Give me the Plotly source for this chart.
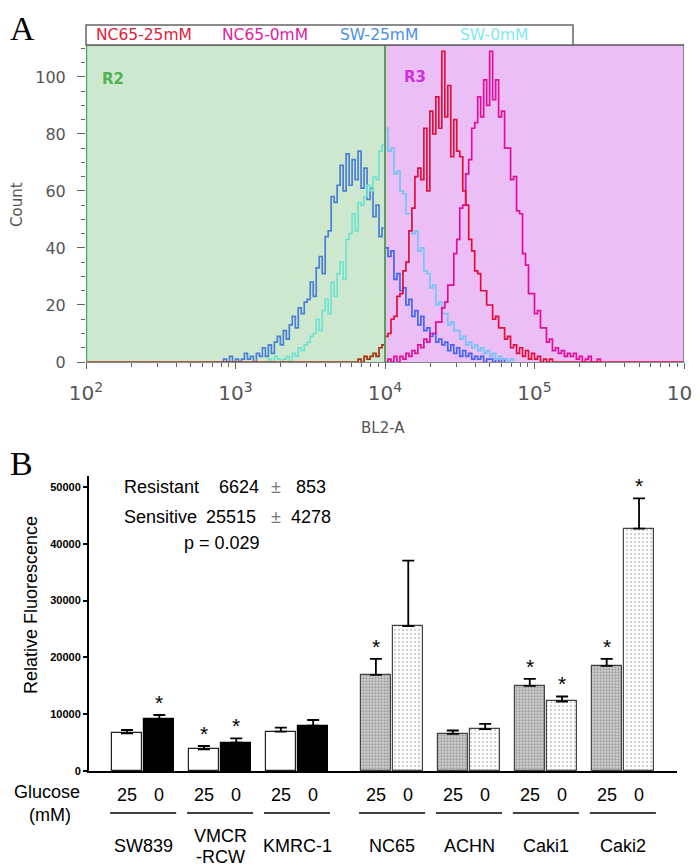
import plotly.graph_objects as go

W, H = 700, 867
PAGE_OFF = 8  # default page body margin of the html page
def px(x): return (x - PAGE_OFF) / W
def py(y): return 1 - (y - PAGE_OFF) / H

# ---------------- Panel A data (flow histogram, log10 channel, counts) ----------------
hist_step = 0.02
gate_split_log = 4.0
sw25_start = 2.90
sw25_counts = [0, 1, 0, 2, 0, 1, 0, 1, 3, 1, 2, 0, 3, 2, 5, 2, 6, 3, 7, 9,
               6, 11, 8, 13, 16, 12, 19, 17, 21, 22, 28, 23, 33, 37, 31, 44, 46, 58, 56, 62,
               69, 60, 73, 62, 71, 64, 74, 61, 68, 57, 61, 51, 55, 44, 47, 40, 37, 39, 29, 31,
               25, 26, 20, 22, 16, 18, 13, 16, 11, 12, 9, 10, 7, 8, 6, 7, 4, 6, 3, 5,
               2, 4, 2, 3, 1, 2, 1, 2, 0, 1, 1, 0, 1, 0, 1, 0]
sw0_start = 3.20
sw0_counts = [0, 1, 0, 2, 1, 0, 1, 2, 0, 3, 2, 5, 4, 6, 7, 9, 10, 15, 11, 18,
              22, 17, 28, 23, 31, 35, 29, 43, 45, 52, 46, 56, 55, 58, 62, 60, 65, 64, 74, 76,
              82, 74, 75, 66, 67, 60, 59, 52, 52, 45, 46, 39, 40, 32, 31, 26, 27, 20, 21, 17,
              17, 13, 14, 11, 11, 8, 9, 6, 7, 5, 6, 4, 5, 3, 4, 2, 3, 1, 2, 1,
              1, 0, 1, 0]
nc25_start = 3.80
nc25_counts = [0, 1, 0, 2, 1, 2, 3, 2, 5, 6, 9, 10, 15, 16, 23, 24, 32, 35, 46, 54,
               65, 68, 64, 82, 60, 88, 80, 93, 82, 109, 86, 97, 72, 85, 74, 72, 60, 55, 43, 39,
               32, 31, 25, 25, 20, 20, 15, 16, 12, 12, 8, 9, 5, 6, 3, 5, 2, 4, 1, 3,
               1, 2, 0, 1, 0, 1, 0]
nc0_start = 4.00
nc0_counts = [0, 1, 0, 2, 0, 2, 1, 3, 2, 4, 3, 6, 5, 8, 7, 10, 10, 14, 14, 19,
              21, 27, 27, 38, 43, 54, 55, 66, 71, 82, 84, 93, 86, 99, 90, 109, 92, 99, 86, 88,
              75, 75, 64, 65, 53, 52, 38, 34, 24, 24, 17, 18, 12, 12, 7, 8, 4, 5, 3, 4,
              2, 3, 2, 3, 1, 2, 0, 1, 2, 0, 0, 1, 0]
legend_labels = ["NC65-25mM", "NC65-0mM", "SW-25mM", "SW-0mM"]

# ---------------- Panel B data ----------------
cell_lines = ["SW839", "VMCR<br>-RCW", "KMRC-1", "NC65", "ACHN", "Caki1", "Caki2"]
glucose_levels = ["25", "0"]
fluor_25 = [6640, 3820, 6920, 16940, 6550, 15000, 18520]
sem_25 = [580, 580, 700, 2810, 580, 1230, 1230]
fluor_0 = [9100, 4980, 7980, 25530, 7360, 12240, 42660]
sem_0 = [760, 780, 1000, 11500, 950, 880, 5350]
star_25 = [False, True, False, True, False, True, True]
star_0 = [True, True, False, False, False, True, True]
sensitive = [False, False, False, True, True, True, True]
stats_rows = [("Resistant", "6624", "853"), ("Sensitive", "25515", "4278")]
p_text = "p = 0.029"

fig = go.Figure()

# ---------- Panel A traces ----------
def build(start, counts, pad=False):
    logs = [round(start + hist_step * i, 4) for i in range(len(counts))]
    xs = [10 ** v for v in logs]
    ys = list(counts)
    if pad:
        logs = [2.0] + logs + [6.0]
        xs = [10 ** 2.0] + xs + [10 ** 6.0]
        ys = [0] + ys + [0]
    r2 = [(x, y) for l, x, y in zip(logs, xs, ys) if l <= gate_split_log]
    r3 = [(x, y) for l, x, y in zip(logs, xs, ys) if l >= gate_split_log]
    return r2, r3

series = [
    (sw25_start, sw25_counts, False, "#4a7fd6", "#4466f0"),
    (sw0_start, sw0_counts, False, "#6fe3cf", "#74c4f4"),
    (nc0_start, nc0_counts, False, "#d8108a", "#e0109a"),
    (nc25_start, nc25_counts, True, "#a8300c", "#e0103c"),
]
for start, counts, pad, c2, c3 in series:
    r2, r3 = build(start, counts, pad)
    for part, col in ((r2, c2), (r3, c3)):
        if part:
            fig.add_trace(go.Scatter(x=[p[0] for p in part], y=[p[1] for p in part],
                                     mode="lines", line=dict(color=col, width=1.7, shape="hv"),
                                     xaxis="x", yaxis="y", showlegend=False, hoverinfo="skip"))

# ---------- Panel B traces ----------
def gpos(i):
    return i * 2.33 + (0.55 if i >= 3 else 0.0)
off = 0.49
bw = 0.9

styles = {
    (False, 0): dict(color="white", line=dict(color="#222", width=1.2)),
    (False, 1): dict(color="black", line=dict(color="black", width=1.2)),
    (True, 0): dict(color="#d0d0d0", line=dict(color="#444", width=1.2),
                    pattern=dict(shape=".", fgcolor="#6a6a6a", bgcolor="#d2d2d2", size=3, solidity=0.45)),
    (True, 1): dict(color="white", line=dict(color="#444", width=1.2),
                    pattern=dict(shape=".", fgcolor="#9a9a9a", bgcolor="white", size=4, solidity=0.25)),
}
for sens in (False, True):
    for k, (vals, sems) in enumerate(((fluor_25, sem_25), (fluor_0, sem_0))):
        idx = [i for i in range(len(cell_lines)) if sensitive[i] == sens]
        xs = [gpos(i) + (-off if k == 0 else off) for i in idx]
        fig.add_trace(go.Bar(
            x=xs, y=[vals[i] for i in idx], width=bw,
            marker=styles[(sens, k)],
            error_y=dict(type="data", array=[sems[i] for i in idx], arrayminus=[0] * len(idx),
                         symmetric=False, color="black", thickness=1.8, width=6),
            xaxis="x2", yaxis="y2", showlegend=False, hoverinfo="skip"))

annotations = []
shapes = []

def ann(x, y, text, xref="paper", yref="paper", xanchor="center", yanchor="middle", **kw):
    d = dict(x=x, y=y, xref=xref, yref=yref, text=text, xanchor=xanchor, yanchor=yanchor, showarrow=False)
    d.update(kw)
    annotations.append(d)

SANS = "Liberation Sans"
for i, name in enumerate(cell_lines):
    c = gpos(i)
    for k, (vals, sems, stars) in enumerate(((fluor_25, sem_25, star_25), (fluor_0, sem_0, star_0))):
        bx = c + (-off if k == 0 else off)
        ann(bx, py(795), glucose_levels[k], xref="x2", font=dict(family=SANS, size=18, color="black"))
        if stars[i]:
            ann(bx, vals[i] + sems[i], "*", xref="x2", yref="y2", yanchor="bottom", yshift=-1,
                font=dict(family=SANS, size=21, color="black"))
    lines = name.split("<br>")
    if len(lines) == 1:
        ann(c, py(846), name, xref="x2", font=dict(family=SANS, size=18, color="black"))
    else:
        for ln, yy in zip(lines, (836, 857)):
            ann(c, py(yy), ln, xref="x2", font=dict(family=SANS, size=18, color="black"))
    shapes.append(dict(type="line", xref="x2", yref="paper", x0=c - off - bw / 2 - 0.06,
                       x1=c + off + bw / 2 + 0.06, y0=py(813), y1=py(813),
                       line=dict(color="black", width=1.5)))

ann(px(47), py(792), "Glucose", font=dict(family=SANS, size=18, color="black"))
ann(px(50), py(815), "(mM)", font=dict(family=SANS, size=18, color="black"))
ann(px(31), py(605), "Relative Fluorescence", textangle=-90, font=dict(family=SANS, size=18, color="black"))

row_y = [487, 517]
num_right = [261, 258]
sd_right = [328, 333]
for (lab, mean, sd), yy, nr, sr in zip(stats_rows, row_y, num_right, sd_right):
    f = dict(family=SANS, size=18, color="black")
    ann(px(122), py(yy), lab, xanchor="left", font=f)
    ann(px(nr), py(yy), mean, xanchor="right", font=f)
    ann(px(276), py(yy), "±", font=dict(family=SANS, size=18, color="#777"))
    ann(px(sr), py(yy), sd, xanchor="right", font=f)
ann(px(222), py(543), p_text, font=dict(family=SANS, size=18, color="black"))

ann(px(8), py(8), "A", xanchor="left", yanchor="top", font=dict(family="Liberation Serif", size=34, color="black"))
ann(px(8), py(463), "B", xanchor="left", font=dict(family="Liberation Serif", size=34, color="black"))

# ---------- Panel A decorations ----------
shapes += [
    dict(type="rect", xref="x", yref="y domain", x0=1e2, x1=1e4, y0=0, y1=1, layer="below",
         fillcolor="#cde8cf", line=dict(width=0)),
    dict(type="rect", xref="x", yref="y domain", x0=1e4, x1=1e6, y0=0, y1=1, layer="below",
         fillcolor="#ebbef5", line=dict(width=0)),
    dict(type="line", xref="x", yref="y domain", x0=1e2, x1=1e2, y0=0, y1=1,
         line=dict(color="#4caf50", width=2.5)),
    dict(type="line", xref="x", yref="y domain", x0=1e4, x1=1e4, y0=0, y1=1,
         line=dict(color="#5aa05a", width=2)),
    dict(type="line", xref="x", yref="y domain", x0=1e6, x1=1e6, y0=0, y1=1,
         line=dict(color="#7d5d7d", width=1.5)),
    dict(type="line", xref="x domain", yref="y domain", x0=0, x1=1, y0=1, y1=1,
         line=dict(color="#555", width=1.5)),
    dict(type="rect", xref="paper", yref="paper", x0=px(86), x1=px(573), y0=py(45), y1=py(25),
         fillcolor="white", line=dict(color="#666", width=1.5)),
]
DV = "DejaVu Sans"
leg_x = [94, 220, 338, 458]
leg_col = ["#e0203a", "#e020a0", "#4a90e0", "#80e8f0"]
for t, lx, lc in zip(legend_labels, leg_x, leg_col):
    ann(px(lx), py(35), t, xanchor="left", font=dict(family=DV, size=15.5, color=lc))
ann(px(100), py(79), "<b>R2</b>", xanchor="left", font=dict(family=DV, size=15, color="#50b450"))
ann(px(402), py(77), "<b>R3</b>", xanchor="left", font=dict(family=DV, size=15, color="#d030e0"))
ann(px(383), py(428), "BL2-A", font=dict(family=DV, size=15, color="#555"))
ann(px(17), py(205), "Count", textangle=-90, font=dict(family=DV, size=15, color="#555"))

fig.update_layout(
    width=W, height=H, margin=dict(l=0, r=0, t=0, b=0, autoexpand=False),
    paper_bgcolor="white", plot_bgcolor="rgba(0,0,0,0)",
    bargap=0, barmode="overlay",
    xaxis=dict(type="log", range=[2, 6], domain=[px(86), px(684)], anchor="y", automargin=False,
               dtick=1, exponentformat="power", showexponent="all",
               ticks="outside", ticklen=6, tickcolor="#666", tickwidth=1,
               minor=dict(ticks="outside", ticklen=4, tickcolor="#666", dtick="D1"),
               showgrid=False, zeroline=False, showline=True, linecolor="#888",
               tickfont=dict(family=DV, size=16, color="#555"), ticklabelstandoff=8),
    yaxis=dict(range=[0, 111.2], domain=[py(362), py(45)], anchor="x", automargin=False,
               tickvals=[0, 20, 40, 60, 80, 100], ticks="outside", ticklen=8, tickcolor="#666",
               minor=dict(ticks="outside", ticklen=4, tickcolor="#666", dtick=5),
               showgrid=False, zeroline=False, showline=False,
               tickfont=dict(family=DV, size=16, color="#555"), ticklabelstandoff=8),
    xaxis2=dict(range=[-1.64, 16.17], domain=[px(89), px(677)], anchor="y2", automargin=False,
                showticklabels=False, ticks="", showgrid=False, zeroline=False,
                showline=True, linecolor="black", linewidth=1.5),
    yaxis2=dict(range=[0, 51936], domain=[py(771), py(476)], anchor="x2", automargin=False,
                tickvals=[0, 10000, 20000, 30000, 40000, 50000], tickformat="d", ticks="outside", ticklen=4,
                tickwidth=1.5, tickcolor="black", showgrid=False, zeroline=False,
                showline=True, linecolor="black", linewidth=2,
                tickfont=dict(family=SANS, size=11, color="black", weight="bold")),
    annotations=annotations, shapes=shapes,
)

fig.write_html("out.html")
